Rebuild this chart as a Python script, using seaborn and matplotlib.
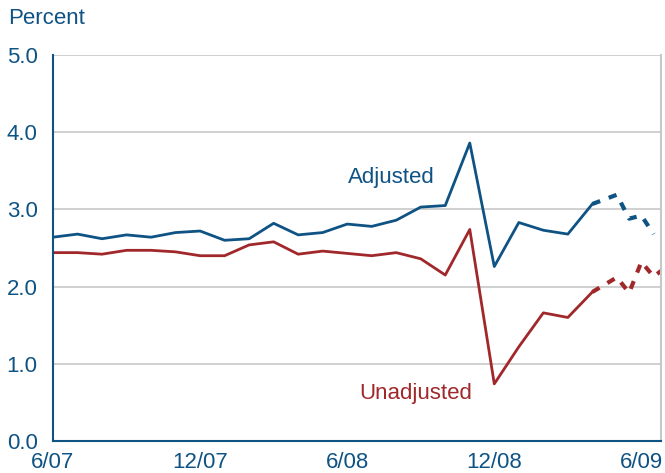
import numpy as np
import pandas as pd
import matplotlib
matplotlib.use("Agg")
import matplotlib.pyplot as plt
import seaborn as sns

sns.set_style("white")
plt.rcParams["font.family"] = ["Liberation Sans", "DejaVu Sans"]

# months since 6/07
months = list(range(0, 23))
adjusted = [2.64, 2.68, 2.62, 2.67, 2.64, 2.70, 2.72, 2.60, 2.62, 2.82, 2.67, 2.70,
            2.81, 2.78, 2.86, 3.03, 3.05, 3.86, 2.26, 2.83, 2.73, 2.68, 3.07]
unadjusted = [2.44, 2.44, 2.42, 2.47, 2.47, 2.45, 2.40, 2.40, 2.54, 2.58, 2.42, 2.46,
              2.43, 2.40, 2.44, 2.36, 2.15, 2.74, 0.74, 1.22, 1.66, 1.60, 1.93]

# preliminary (dotted) part
adj_prelim_months = [22, 23, 23.5, 24, 24.5]
adj_prelim = [3.07, 3.19, 2.88, 2.92, 2.68]
unadj_prelim_months = [22, 23, 23.5, 24, 24.5, 25]
unadj_prelim = [1.93, 2.12, 1.92, 2.32, 2.13, 2.25]

tick_months = [0, 6, 12, 18, 24]
tick_labels = ["6/07", "12/07", "6/08", "12/08", "6/09"]
y_ticks = [0.0, 1.0, 2.0, 3.0, 4.0, 5.0]

blue = "#0e5384"
red = "#a0282b"
grid = "#c8c8c8"

solid = pd.DataFrame({"month": months, "Adjusted": adjusted, "Unadjusted": unadjusted})
adj_p = pd.DataFrame({"month": adj_prelim_months, "value": adj_prelim})
unadj_p = pd.DataFrame({"month": unadj_prelim_months, "value": unadj_prelim})

fig = plt.figure(figsize=(6.65, 4.73), dpi=100)
ax = fig.add_axes([53 / 665, 1 - 441 / 473, (661 - 53) / 665, (441 - 55) / 473])

for yv in y_ticks[1:]:
    ax.axhline(yv, color=grid, lw=1.2, zorder=0)

sns.lineplot(data=solid, x="month", y="Adjusted", color=blue, lw=2, ax=ax)
sns.lineplot(data=solid, x="month", y="Unadjusted", color=red, lw=2, ax=ax)
sns.lineplot(data=adj_p, x="month", y="value", color=blue, lw=3,
             linestyle=(0, (2, 2.2)), ax=ax)
sns.lineplot(data=unadj_p, x="month", y="value", color=red, lw=3,
             linestyle=(0, (2, 2.2)), ax=ax)

ax.set_xlim(0, 24.8)
ax.set_ylim(0, 5)
ax.set_xticks(tick_months)
ax.set_xticklabels(tick_labels)
ax.set_yticks(y_ticks)
ax.set_yticklabels([f"{v:.1f}" for v in y_ticks])
ax.set_xlabel("")
ax.set_ylabel("")

ax.tick_params(axis="both", direction="in", length=5, width=1.2, color=blue,
               labelcolor=blue, labelsize=16)
ax.tick_params(axis="y", pad=11)
ax.tick_params(axis="x", pad=8)

for side in ["left", "bottom"]:
    ax.spines[side].set_color(blue)
    ax.spines[side].set_linewidth(1.5)
ax.spines["top"].set_visible(False)
ax.spines["right"].set_color(grid)
ax.spines["right"].set_linewidth(1.5)

ax.text(13.8, 3.41, "Adjusted", color=blue, fontsize=16, ha="center", va="center")
ax.text(14.8, 0.62, "Unadjusted", color=red, fontsize=16, ha="center", va="center")
fig.text(8 / 665, 1 - 18 / 473, "Percent", color=blue, fontsize=16, ha="left", va="center")

fig.savefig("out.png", dpi=100)
